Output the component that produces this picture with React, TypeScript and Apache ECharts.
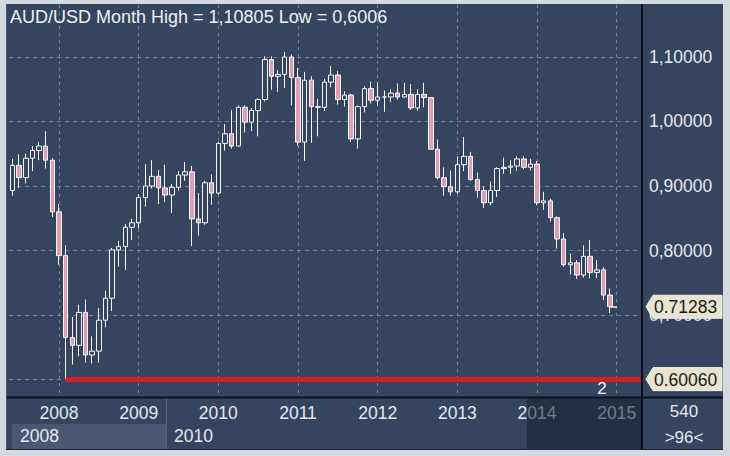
import { useEffect, useRef } from 'react';
import * as echarts from 'echarts';

// Monthly categories (Feb 2008 .. Dec 2015); the last months are empty slots
const months: string[] = [
  '2008-02', '2008-03', '2008-04', '2008-05', '2008-06', '2008-07', '2008-08', '2008-09', '2008-10', '2008-11', '2008-12',
  '2009-01', '2009-02', '2009-03', '2009-04', '2009-05', '2009-06', '2009-07', '2009-08', '2009-09', '2009-10', '2009-11', '2009-12',
  '2010-01', '2010-02', '2010-03', '2010-04', '2010-05', '2010-06', '2010-07', '2010-08', '2010-09', '2010-10', '2010-11', '2010-12',
  '2011-01', '2011-02', '2011-03', '2011-04', '2011-05', '2011-06', '2011-07', '2011-08', '2011-09', '2011-10', '2011-11', '2011-12',
  '2012-01', '2012-02', '2012-03', '2012-04', '2012-05', '2012-06', '2012-07', '2012-08', '2012-09', '2012-10', '2012-11', '2012-12',
  '2013-01', '2013-02', '2013-03', '2013-04', '2013-05', '2013-06', '2013-07', '2013-08', '2013-09', '2013-10', '2013-11', '2013-12',
  '2014-01', '2014-02', '2014-03', '2014-04', '2014-05', '2014-06', '2014-07', '2014-08', '2014-09', '2014-10', '2014-11', '2014-12',
  '2015-01', '2015-02', '2015-03', '2015-04', '2015-05', '2015-06', '2015-07', '2015-08', '2015-09', '2015-10', '2015-11', '2015-12',
];

// [open, close, low, high]
const ohlc: number[][] = [
  // 2008
  [0.893, 0.932, 0.885, 0.942], [0.932, 0.913, 0.897, 0.949], [0.913, 0.943, 0.904, 0.950], [0.943, 0.955, 0.923, 0.962],
  [0.955, 0.962, 0.940, 0.968], [0.962, 0.940, 0.927, 0.985], [0.940, 0.860, 0.852, 0.943], [0.860, 0.792, 0.778, 0.872],
  [0.792, 0.665, 0.6006, 0.808], [0.665, 0.653, 0.623, 0.697], [0.653, 0.704, 0.636, 0.716],
  // 2009
  [0.704, 0.638, 0.626, 0.724], [0.638, 0.644, 0.625, 0.667], [0.644, 0.692, 0.626, 0.711], [0.692, 0.726, 0.681, 0.738],
  [0.726, 0.801, 0.706, 0.804], [0.801, 0.806, 0.775, 0.815], [0.806, 0.836, 0.770, 0.841], [0.836, 0.843, 0.816, 0.849],
  [0.843, 0.882, 0.834, 0.887], [0.882, 0.900, 0.868, 0.934], [0.900, 0.915, 0.896, 0.940], [0.915, 0.897, 0.872, 0.925],
  // 2010
  [0.897, 0.886, 0.875, 0.933], [0.886, 0.898, 0.858, 0.903], [0.898, 0.917, 0.893, 0.923], [0.917, 0.922, 0.908, 0.937],
  [0.922, 0.849, 0.807, 0.931], [0.849, 0.843, 0.823, 0.889], [0.843, 0.905, 0.840, 0.908], [0.905, 0.889, 0.871, 0.918],
  [0.889, 0.966, 0.887, 0.968], [0.966, 0.981, 0.955, 0.996], [0.981, 0.962, 0.958, 1.018], [0.962, 1.022, 0.961, 1.025],
  // 2011
  [1.022, 0.999, 0.983, 1.025], [0.999, 1.017, 0.985, 1.021], [1.017, 1.034, 0.977, 1.036], [1.034, 1.096, 1.031, 1.101],
  [1.096, 1.070, 1.049, 1.101], [1.070, 1.073, 1.046, 1.080], [1.073, 1.100, 1.052, 1.108], [1.100, 1.068, 1.025, 1.104],
  [1.068, 0.968, 0.962, 1.083], [0.968, 1.064, 0.939, 1.077], [1.064, 1.023, 0.967, 1.070], [1.023, 1.022, 0.977, 1.035],
  // 2012
  [1.022, 1.061, 1.016, 1.066], [1.061, 1.072, 1.053, 1.086], [1.072, 1.034, 1.026, 1.078], [1.034, 1.041, 1.023, 1.047],
  [1.041, 0.973, 0.968, 1.043], [0.973, 1.023, 0.958, 1.025], [1.023, 1.051, 1.014, 1.055], [1.051, 1.033, 1.028, 1.062],
  [1.033, 1.038, 1.024, 1.061], [1.038, 1.038, 1.015, 1.048], [1.038, 1.044, 1.030, 1.050], [1.044, 1.038, 1.034, 1.059],
  // 2013
  [1.038, 1.042, 1.037, 1.060], [1.042, 1.021, 1.018, 1.058], [1.021, 1.042, 1.017, 1.050], [1.042, 1.037, 1.022, 1.060],
  [1.037, 0.957, 0.957, 1.038], [0.957, 0.913, 0.910, 0.972], [0.913, 0.899, 0.885, 0.929], [0.899, 0.891, 0.885, 0.924],
  [0.891, 0.933, 0.888, 0.946], [0.933, 0.946, 0.923, 0.976], [0.946, 0.910, 0.908, 0.953], [0.910, 0.893, 0.882, 0.921],
  // 2014
  [0.893, 0.874, 0.866, 0.899], [0.874, 0.893, 0.870, 0.907], [0.893, 0.927, 0.883, 0.929], [0.927, 0.929, 0.919, 0.944],
  [0.929, 0.931, 0.919, 0.940], [0.931, 0.942, 0.924, 0.946], [0.942, 0.929, 0.926, 0.946], [0.929, 0.934, 0.924, 0.942],
  [0.934, 0.874, 0.870, 0.939], [0.874, 0.877, 0.863, 0.891], [0.877, 0.851, 0.845, 0.880], [0.851, 0.818, 0.803, 0.853],
  // 2015
  [0.818, 0.778, 0.775, 0.827], [0.778, 0.781, 0.763, 0.795], [0.781, 0.762, 0.756, 0.785], [0.762, 0.791, 0.758, 0.808],
  [0.791, 0.766, 0.757, 0.816], [0.766, 0.770, 0.757, 0.785], [0.770, 0.731, 0.723, 0.774], [0.731, 0.713, 0.703, 0.741],
];

const yearTickMonths = ['2008-09', '2009-09', '2010-09', '2011-09', '2012-09', '2013-09', '2014-09', '2015-09'];
const yearTickLabels = ['2008', '2009', '2010', '2011', '2012', '2013', '2014', '2015'];
const navigatorLabels = ['2008', '2010'];

const titleText = 'AUD/USD Month High = 1,10805 Low = 0,6006';
const lowMonth = '2008-10';
const lowValue = 0.6006;
const lowTag = '0.60060';
const lastMonth = '2015-08';
const nextMonth = '2015-09';
const lastValue = 0.71283;
const lastTag = '0.71283';
const hiddenAxisValue = 0.6; // fully covered by the low tag in the reference
const markerText = '2';
const barCountText = '540';
const visibleBarsText = '>96<';

const FONT = '"Liberation Sans", Arial, Helvetica, sans-serif';
const PANEL = '#35445f';
const TEXT = '#e4e8f0';
const GRID = 'rgba(190,200,220,0.45)';
const FRAME = '#d4d8df';
const DARK = '#0b101c';

const isYearTick = (_i: number, v: string) => yearTickMonths.indexOf(v) >= 0;

export default function App() {
  const ref = useRef<HTMLDivElement>(null);

  useEffect(() => {
    if (!ref.current) return;
    const chart = echarts.init(ref.current, null, { renderer: 'svg' });

    const option: any = {
      animation: false,
      backgroundColor: PANEL,
      textStyle: { fontFamily: FONT },
      grid: { left: 9.18, top: 5, width: 630.8, height: 392 },
      xAxis: {
        type: 'category',
        data: months,
        boundaryGap: true,
        axisLine: { show: false },
        axisTick: { show: false },
        axisLabel: {
          interval: isYearTick,
          formatter: (v: string) => {
            const k = yearTickMonths.indexOf(v);
            return k >= 0 ? yearTickLabels[k] : '';
          },
          color: TEXT,
          fontSize: 17.5,
          fontFamily: FONT,
          margin: 7,
        },
        splitLine: {
          show: true,
          interval: isYearTick,
          alignWithLabel: true,
          lineStyle: { color: GRID, type: [3, 4], width: 1 },
        },
      },
      yAxis: {
        type: 'value',
        position: 'right',
        min: 0.5729,
        max: 1.1806,
        axisLine: { show: false },
        axisTick: { show: false },
        axisLabel: {
          formatter: (v: number) => (Math.abs(v - hiddenAxisValue) < 1e-6 ? '' : v.toFixed(5).replace('.', ',')),
          color: TEXT,
          fontSize: 17.5,
          fontFamily: FONT,
          margin: 9,
          showMinLabel: false,
          showMaxLabel: false,
        },
        splitLine: {
          show: true,
          showMinLine: false,
          showMaxLine: false,
          lineStyle: { color: GRID, type: [4, 4], width: 1 },
        },
      },
      series: [
        {
          type: 'candlestick',
          data: ohlc,
          barWidth: 5,
          itemStyle: {
            color: PANEL,
            color0: '#df9fb3',
            borderColor: '#f4f5f9',
            borderColor0: '#f4f5f9',
            borderWidth: 1,
          },
          markLine: {
            silent: true,
            symbol: ['none', 'none'],
            label: { show: false },
            data: [
              [
                { coord: [lowMonth, lowValue], lineStyle: { color: '#d21f2a', width: 5, type: 'solid' } },
                { x: 642, yAxis: lowValue },
              ],
              [
                { coord: [lastMonth, lastValue], lineStyle: { color: '#f4f5f9', width: 1.5, type: 'solid' } },
                { coord: [nextMonth, lastValue] },
              ],
            ],
          },
        },
      ],
    };
    chart.setOption(option);

    const yLow = chart.convertToPixel({ yAxisIndex: 0 }, lowValue) as number;
    const yLast = chart.convertToPixel({ yAxisIndex: 0 }, lastValue) as number;

    const tag = (y: number, txt: string) => [
      {
        type: 'polygon',
        z: 60,
        shape: { points: [[646, y], [653, y - 11.5], [722, y - 11.5], [722, y + 11.5], [653, y + 11.5]] },
        style: { fill: '#e7e5cf', stroke: '#f6f4e6', lineWidth: 1 },
      },
      {
        type: 'text',
        z: 61,
        x: 654,
        y: y + 0.5,
        style: { text: txt, fill: '#1b1b16', font: `17.5px ${FONT}`, verticalAlign: 'middle', align: 'left' },
      },
    ];

    const graphic: any[] = [
      // bottom navigator row
      { type: 'rect', z: 1, shape: { x: 12, y: 424, width: 154, height: 25 }, style: { fill: '#4a5772' } },
      { type: 'line', z: 1, shape: { x1: 166.5, y1: 398, x2: 166.5, y2: 449 }, style: { stroke: '#56637e', lineWidth: 1 } },
      { type: 'text', z: 2, x: 20, y: 436, style: { text: navigatorLabels[0], fill: TEXT, font: `17.5px ${FONT}`, verticalAlign: 'middle' } },
      { type: 'text', z: 2, x: 174, y: 436, style: { text: navigatorLabels[1], fill: TEXT, font: `17.5px ${FONT}`, verticalAlign: 'middle' } },
      // dimmed right part of the time axis
      { type: 'rect', z: 40, shape: { x: 527, y: 398.5, width: 114.5, height: 50.5 }, style: { fill: 'rgba(22,30,48,0.55)' } },
      // marker text
      { type: 'text', z: 45, x: 602, y: 388, style: { text: markerText, fill: '#f2f4f8', font: `17px ${FONT}`, align: 'center', verticalAlign: 'middle' } },
      // right-bottom counters
      { type: 'text', z: 45, x: 684, y: 411, style: { text: barCountText, fill: TEXT, font: `17px ${FONT}`, align: 'center', verticalAlign: 'middle' } },
      { type: 'text', z: 45, x: 684, y: 437, style: { text: visibleBarsText, fill: TEXT, font: `17px ${FONT}`, align: 'center', verticalAlign: 'middle' } },
      // separators
      { type: 'line', z: 50, shape: { x1: 642, y1: 4, x2: 642, y2: 450 }, style: { stroke: DARK, lineWidth: 2 } },
      { type: 'line', z: 50, shape: { x1: 7, y1: 397.5, x2: 723, y2: 397.5 }, style: { stroke: DARK, lineWidth: 2 } },
      // title
      { type: 'text', z: 55, x: 10, y: 17, style: { text: titleText, fill: '#eef1f6', font: `18px ${FONT}`, verticalAlign: 'middle' } },
      ...tag(yLast, lastTag),
      ...tag(yLow, lowTag),
      // outer frame
      { type: 'rect', z: 100, shape: { x: 0, y: 0, width: 730, height: 4 }, style: { fill: FRAME } },
      { type: 'rect', z: 100, shape: { x: 0, y: 0, width: 6, height: 456 }, style: { fill: FRAME } },
      { type: 'rect', z: 100, shape: { x: 723, y: 0, width: 7, height: 456 }, style: { fill: FRAME } },
      { type: 'rect', z: 100, shape: { x: 0, y: 450, width: 730, height: 6 }, style: { fill: FRAME } },
      { type: 'line', z: 100, shape: { x1: 6.5, y1: 4, x2: 6.5, y2: 450 }, style: { stroke: '#4e586c', lineWidth: 1 } },
      { type: 'line', z: 100, shape: { x1: 6, y1: 449.5, x2: 723, y2: 449.5 }, style: { stroke: '#1e2536', lineWidth: 1 } },
    ];
    chart.setOption({ graphic });

    return () => chart.dispose();
  }, []);

  return <div ref={ref} style={{ position: 'fixed', left: 0, top: 0, width: 730, height: 456 }} />;
}
